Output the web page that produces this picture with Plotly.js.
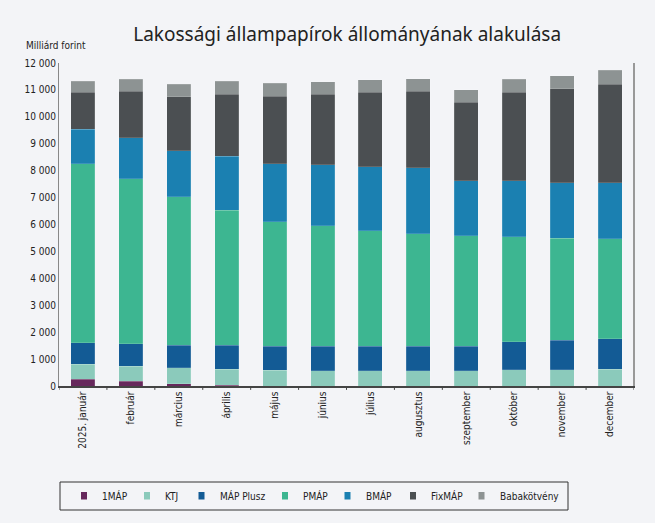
<!DOCTYPE html>
<html><head><meta charset="utf-8">
<script src="https://cdn.plot.ly/plotly-3.0.1.min.js"></script>
<style>html,body{margin:0;padding:0;background:#f3f4f7;}</style>
</head><body><div id="chart" style="width:655px;height:523px;"></div>
<script>
const months = ["2025. január","február","március","április","május","június","július","augusztus","szeptember","október","november","december"];
const egyMAP   = [250,175,90,25,0,0,0,0,0,0,0,0];
const ktj      = [559,559,597,597,585,560,573,573,573,596,611,622];
const mapPlusz = [794,831,831,883,895,920,907,907,907,1044,1081,1130];
const pmap     = [6649,6139,5516,5032,4621,4472,4286,4174,4100,3902,3802,3727];
const bmap     = [1278,1517,1703,1998,2151,2262,2374,2449,2038,2076,2061,2065];
const fixmap   = [1379,1737,2013,2311,2520,2632,2781,2855,2930,3291,3492,3675];
const baba     = [410,436,459,473,473,461,461,462,462,485,485,510];
const yTicks = [0,1000,2000,3000,4000,5000,6000,7000,8000,9000,10000,11000,12000];
const yTickText = ["0","1 000","2 000","3 000","4 000","5 000","6 000","7 000","8 000","9 000","10 000","11 000","12 000"];

const series = [
  ["1MÁP", egyMAP, "#66285c"],
  ["KTJ", ktj, "#8bcabb"],
  ["MÁP Plusz", mapPlusz, "#135b95"],
  ["PMÁP", pmap, "#3db691"],
  ["BMÁP", bmap, "#1b80b1"],
  ["FixMÁP", fixmap, "#4b4f52"],
  ["Babakötvény", baba, "#8d9393"]
];
const traces = series.map(([name, vals, col]) => ({
  type: "bar", name: name, x: months, y: vals, showlegend: false,
  marker: {color: col, line: {color: "rgba(255,255,255,0.25)", width: 0.6}},
  width: 0.5
}));
const condensed = "DejaVu Sans Condensed, Liberation Sans Narrow, Noto Sans, sans-serif";

const L = 59, T = 63, W = 575, H = 323;
const px = x => (x - L) / W;
const py = y => (T + H - y) / H;

const layout = {
  width: 655, height: 523,
  paper_bgcolor: "#f3f4f7", plot_bgcolor: "#f3f4f7",
  barmode: "stack",
  font: {family: condensed, size: 10, color: "#222"},
  margin: {l: L, r: 655 - L - W, t: T, b: 523 - T - H},
  title: {text: "Lakossági állampapírok állományának alakulása", x: 0.53, xanchor: "center", y: 0.935, yanchor: "middle",
          font: {family: "Noto Sans, sans-serif", size: 19, color: "#222"}},
  showlegend: false,
  xaxis: {type: "category", tickangle: -90, showline: true, linecolor: "#444", linewidth: 1.5, automargin: false,
          mirror: false, ticks: "", showgrid: false, tickfont: {size: 10, color: "#222"},
          range: [-0.5, 11.5]},
  yaxis: {range: [0, 12000], tickvals: yTicks, ticktext: yTickText, showgrid: false, zeroline: false, automargin: false,
          showline: true, linecolor: "#888", linewidth: 1, mirror: true, ticks: "",
          tickfont: {size: 10, color: "#222"}},
  xaxis2: {overlaying: "x", range: [0, 12], showline: true, linecolor: "#888", side: "top", automargin: false,
           showticklabels: false, ticks: "", showgrid: false, zeroline: false},
  annotations: [{text: "Milliárd forint", xref: "paper", yref: "paper", x: px(24), y: py(45),
                 xanchor: "left", yanchor: "middle", showarrow: false, font: {size: 10, color: "#222"}}],
  shapes: []
};
for (let i = 0; i <= 12; i++) {
  layout.shapes.push({type: "line", xref: "x", yref: "paper", x0: i - 0.5, x1: i - 0.5, y0: 0, y1: -0.012,
                      line: {color: "#444", width: 1}});
}
layout.shapes.push({type: "line", xref: "paper", yref: "paper", x0: 1, x1: 1, y0: 0, y1: 1, line: {color: "#999", width: 2}});

// custom legend (small square keys, as in the reference)
layout.shapes.push({type: "rect", xref: "paper", yref: "paper", x0: px(60), x1: px(568), y0: py(482), y1: py(510),
                    line: {color: "#333", width: 1}, fillcolor: "rgba(0,0,0,0)"});
const keyX = [84, 147, 201.5, 285, 347.5, 413, 481.5];
series.forEach(([name, vals, col], i) => {
  layout.shapes.push({type: "rect", xref: "paper", yref: "paper",
                      x0: px(keyX[i] - 3), x1: px(keyX[i] + 3), y0: py(492), y1: py(499.5),
                      line: {width: 0}, fillcolor: col});
  layout.annotations.push({text: name, xref: "paper", yref: "paper", x: px(keyX[i] + 16), y: py(496),
                           xanchor: "left", yanchor: "middle", showarrow: false,
                           font: {family: condensed, size: 10, color: "#222"}});
});
Plotly.newPlot("chart", traces, layout, {displayModeBar: false, staticPlot: true});
</script></body></html>
